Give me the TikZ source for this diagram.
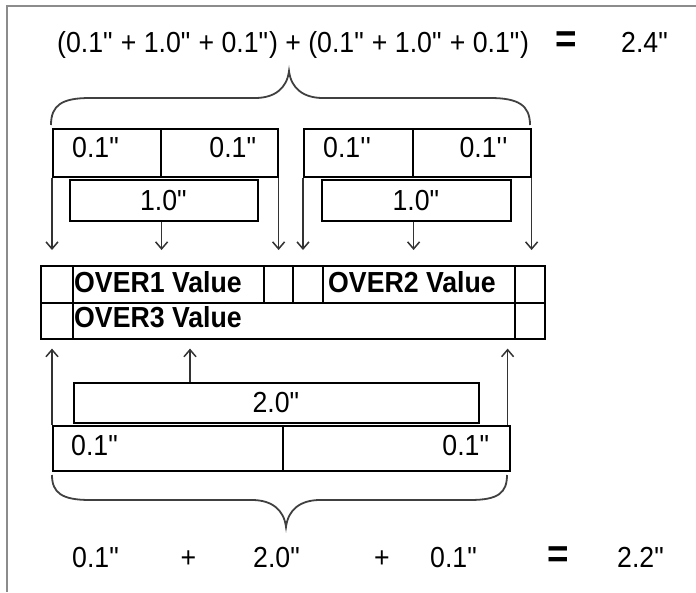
\documentclass[tikz,border=0pt]{standalone}
\usepackage{fontspec}
\setmainfont{Liberation Sans}[FakeStretch=0.92]
\usetikzlibrary{arrows.meta}

\newcommand{\inch}{\textquotedbl}
\newcommand{\tick}{\textquotesingle\textquotesingle}

\tikzset{
  box/.style={draw, line width=1.6pt, inner sep=0pt, anchor=north west, font=\fontsize{29}{32}\selectfont},
  lab/.style={inner sep=0pt, font=\fontsize{29}{32}\selectfont},
  val/.style={inner sep=0pt, anchor=base west, font=\fontsize{29}{32}\selectfont\bfseries},
  eq/.style={inner sep=0pt, anchor=base, font=\fontsize{40}{40}\selectfont\bfseries},
  arr/.style={->, line width=1.5pt, draw=black!80},
  brace/.style={line width=1.8pt, draw=black!75},
}

\begin{document}
\begin{tikzpicture}[x=1pt, y=-1pt, >={Straight Barb[length=7pt,width=12pt]}]
  \useasboundingbox (0,0) rectangle (696,592);
  \draw[line width=2pt, black!45] (7,592) -- (7,6) -- (696,6);

  % top sum
  \node[lab, anchor=base west] (sumtop) at (57,52) {(0.1\inch{} + 1.0\inch{} + 0.1\inch) + (0.1\inch{} + 1.0\inch{} + 0.1\inch)};
  \node[eq] (eqtop) at (566,52) {=};
  \node[lab, anchor=base west] (restop) at (621,52) {2.4\inch};

  \draw[brace] (51,125) .. controls (51,105) and (62,98) .. (90,98) -- (255,98)
    .. controls (275,98) and (287,88) .. (289,71)
    .. controls (291,88) and (303,98) .. (323,98) -- (490,98)
    .. controls (518,98) and (530,105) .. (530,125);

  % over1 and over2 pieces
  \node[box, minimum width=108pt, minimum height=48pt] (tlA) at (52,128) {};
  \node[box, minimum width=117pt, minimum height=48pt] (tlB) at (160,128) {};
  \node[box, minimum width=109pt, minimum height=48pt] (trA) at (303,128) {};
  \node[box, minimum width=118pt, minimum height=48pt] (trB) at (412,128) {};
  \node[lab, anchor=base west] (tlAtxt) at (72,157) {0.1\inch};
  \node[lab, anchor=base east] (tlBtxt) at (257,157) {0.1\inch};
  \node[lab, anchor=base west] (trAtxt) at (323,157) {0.1\tick};
  \node[lab, anchor=base east] (trBtxt) at (508,157) {0.1\tick};
  \node[box, minimum width=188pt, minimum height=41pt] (oneL) at (69,179) {1.0\inch};
  \node[box, minimum width=189pt, minimum height=41pt] (oneR) at (321,179) {1.0\inch};

  % value table
  \node[box, minimum width=32pt, minimum height=37pt] (c11) at (40,265) {};
  \node[box, minimum width=191pt, minimum height=37pt] (c12) at (72,265) {};
  \node[box, minimum width=29pt, minimum height=37pt] (c13) at (263,265) {};
  \node[box, minimum width=30pt, minimum height=37pt] (c14) at (292,265) {};
  \node[box, minimum width=192pt, minimum height=37pt] (c15) at (322,265) {};
  \node[box, minimum width=30pt, minimum height=37pt] (c16) at (514,265) {};
  \node[box, minimum width=32pt, minimum height=36pt] (c21) at (40,302) {};
  \node[box, minimum width=442pt, minimum height=36pt] (c22) at (72,302) {};
  \node[box, minimum width=30pt, minimum height=36pt] (c23) at (514,302) {};
  \node[val] (over1) at (74,292) {OVER1 Value};
  \node[val] (over2) at (328,292) {OVER2 Value};
  \node[val] (over3) at (74,327) {OVER3 Value};

  \draw[arr, shorten >=15pt] (tlA.south west) -- (tlA.south west |- c11.north);
  \draw[arr, shorten >=15pt] (tlA.south east |- oneL.south) -- (tlA.south east |- c11.north);
  \draw[arr, shorten >=15pt] (tlB.south east) -- (tlB.south east |- c11.north);
  \draw[arr, shorten >=15pt] (trA.south west) -- (trA.south west |- c11.north);
  \draw[arr, shorten >=15pt] (trA.south east |- oneR.south) -- (trA.south east |- c11.north);
  \draw[arr, shorten >=15pt] (trB.south east) -- (trB.south east |- c11.north);

  % over3 pieces
  \node[box, minimum width=405pt, minimum height=40pt] (two) at (73,382) {2.0\inch};
  \node[box, minimum width=230pt, minimum height=45pt] (botA) at (52,425) {};
  \node[box, minimum width=227pt, minimum height=45pt] (botB) at (282,425) {};
  \node[lab, anchor=base west] (botAtxt) at (71,455) {0.1\inch};
  \node[lab, anchor=base east] (botBtxt) at (490,455) {0.1\inch};

  \draw[arr, shorten >=9pt] (botA.north west) -- (botA.north west |- c21.south);
  \draw[arr, shorten >=9pt] ([xshift=117pt]two.north west) -- ([xshift=117pt]two.north west |- c21.south);
  \draw[arr, shorten >=9pt] ([xshift=-3pt]botB.north east) -- ([xshift=-3pt]botB.north east |- c21.south);

  \draw[brace] (52,475) .. controls (52,493) and (62,500) .. (90,500) -- (252,500)
    .. controls (272,500) and (284,510) .. (286,527)
    .. controls (288,510) and (300,500) .. (320,500) -- (470,500)
    .. controls (498,500) and (507,493) .. (507,475);

  % bottom sum
  \node[lab, anchor=base west] (s1) at (72,567) {0.1\inch};
  \node[lab, anchor=base] (p1) at (188.5,567) {+};
  \node[lab, anchor=base west] (s2) at (253,567) {2.0\inch};
  \node[lab, anchor=base] (p2) at (382,567) {+};
  \node[lab, anchor=base west] (s3) at (430,567) {0.1\inch};
  \node[eq] (eqbot) at (558,567) {=};
  \node[lab, anchor=base west] (resbot) at (617,567) {2.2\inch};
\end{tikzpicture}
\end{document}
